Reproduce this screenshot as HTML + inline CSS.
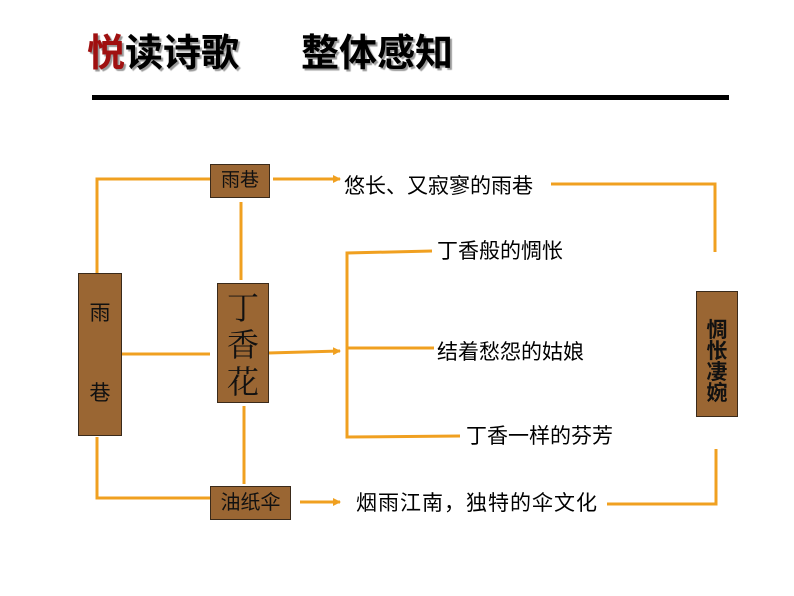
<!DOCTYPE html>
<html><head><meta charset="utf-8"><style>
body{margin:0;width:794px;height:596px;background:#fff;position:relative;overflow:hidden;font-family:"Liberation Sans","Noto Sans CJK SC",sans-serif}
.t{position:absolute;white-space:nowrap;color:#000;font-size:21px;line-height:24px}
.b{position:absolute;background:#9a6633;border:1px solid #3a2a1a;box-sizing:border-box;color:#111;text-align:center}
</style></head><body>
<div class="t" style="left:87px;top:32px;font-size:38px;line-height:44px;font-weight:bold;text-shadow:2px 2px 1px #999"><span style="color:#a01010">悦</span>读诗歌<span style="display:inline-block;width:62px"></span>整体感知</div>
<div style="position:absolute;left:92px;top:95px;width:637px;height:5px;background:#000"></div>
<svg width="794" height="596" style="position:absolute;left:0;top:0">
<defs><marker id="a" markerWidth="8" markerHeight="8" refX="7" refY="4" orient="auto" markerUnits="userSpaceOnUse"><path d="M0,0L8,4L0,8z" fill="#f0a020"/></marker></defs>
<g stroke="#f0a020" stroke-width="3" fill="none">
<polyline points="210,179 97,179 97,273"/>
<polyline points="97,437 97,498 210,498"/>
<line x1="122" y1="354" x2="210" y2="354"/>
<line x1="241" y1="202" x2="241" y2="280"/>
<line x1="244" y1="406" x2="244" y2="484"/>
<line x1="273" y1="179" x2="340" y2="179" marker-end="url(#a)"/>
<line x1="268" y1="353" x2="340" y2="351" marker-end="url(#a)"/>
<line x1="300" y1="502" x2="340" y2="502" marker-end="url(#a)"/>
<polyline points="432,251 347,253 347,437 460,436"/>
<line x1="347" y1="348" x2="434" y2="348"/>
<polyline points="551,184 715,184 715,252"/>
<polyline points="716,449 716,504 607,504"/>
</g></svg>
<div class="b" style="left:78px;top:273px;width:44px;height:163px;font-size:21px;padding-top:0px;line-height:80px">雨<br>巷</div>
<div class="b" style="left:210px;top:164px;width:60px;height:34px;font-size:19px;line-height:32px">雨巷</div>
<div class="b" style="left:217px;top:283px;width:52px;height:120px;font-size:32px;line-height:37px;padding-top:6px;font-family:'Liberation Serif','Noto Serif CJK SC',serif">丁<br>香<br>花</div>
<div class="b" style="left:210px;top:486px;width:81px;height:34px;font-size:20px;line-height:32px">油纸伞</div>
<div class="b" style="left:696px;top:291px;width:42px;height:126px;font-size:21px;line-height:21px;padding-top:28px;font-weight:bold">惆<br>怅<br>凄<br>婉</div>
<div class="t" style="left:344px;top:175px">悠长、又寂寥的雨巷</div>
<div class="t" style="left:437px;top:240px">丁香般的惆怅</div>
<div class="t" style="left:437px;top:341px">结着愁怨的姑娘</div>
<div class="t" style="left:466px;top:425px">丁香一样的芬芳</div>
<div class="t" style="left:356px;top:492px;letter-spacing:1px">烟雨江南，独特的伞文化</div>
</body></html>
